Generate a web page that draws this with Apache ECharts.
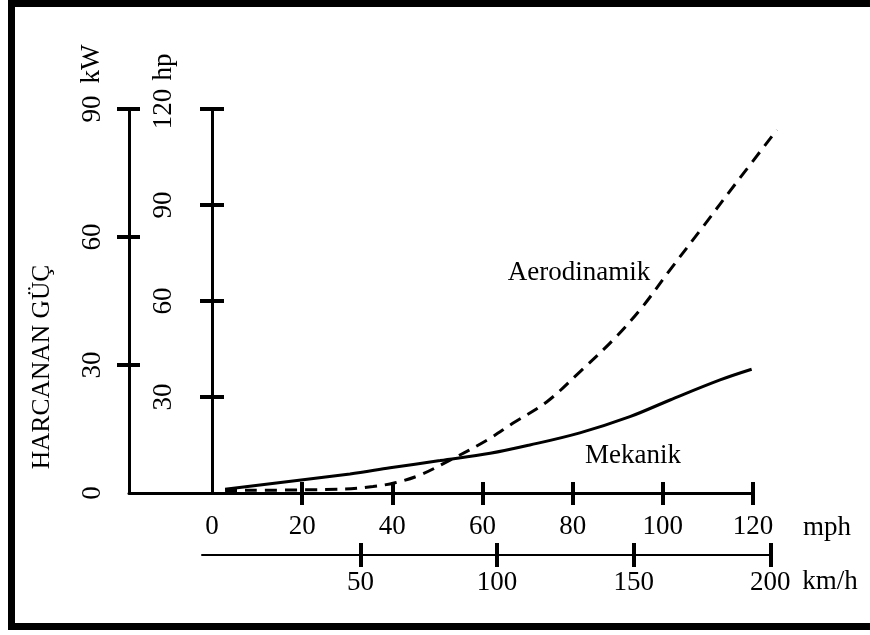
<!DOCTYPE html>
<html><head><meta charset="utf-8">
<script src="https://cdn.jsdelivr.net/npm/echarts@6/dist/echarts.min.js"></script>
<style>html,body{margin:0;padding:0;background:#fff}#c{width:870px;height:635px}</style>
</head><body><div id="c"></div>
<script>
// ---- data ----
const mphTicks = [20, 40, 60, 80, 100, 120];
const mphLabels = [0, 20, 40, 60, 80, 100, 120];
const kmhTicks = [50, 100, 150, 200];
const kwTicks = [30, 60, 90];
const kwLabels = [0, 30, 60, 90];
const hpTicks = [30, 60, 90, 120];

const mekMph = [2.9, 30.6, 39.5, 50.6, 61.7, 70.5, 81.6, 92.7, 101.6, 112.7, 119.7];
const mekKw  = [0.9, 4.45, 5.9, 7.6, 9.3, 11.25, 14.1, 17.9, 21.8, 26.5, 29.0];

const aeroMph = [2.9, 29, 35.7, 40.6, 46.1, 52.8, 61.0, 66.8, 74.3, 81.6, 89.0, 95.3, 101.6, 108.9, 116.5, 125.3];
const aeroKw  = [0.6, 0.9, 1.5, 2.4, 4.2, 7.7, 12.4, 16.4, 21.4, 28.4, 35.9, 43.4, 52.3, 62.4, 73.0, 85.1];

// ---- chart ----
const FF = '"Liberation Serif", "Times New Roman", serif';
const FS = 27;
const chart = echarts.init(document.getElementById('c'), null, {renderer: 'canvas'});

function tickStyle(w){ return {color: '#000', width: w}; }
function labelStyle(extra){ return Object.assign({color: '#000', fontSize: FS, fontFamily: FF}, extra); }

const MPH_MIN = -18.41;           // baseline starts at the kW axis
const PX_PER_MPH = 624 / (120 - MPH_MIN);
const PLOT_MAX = 140;             // hidden plotting axis, same scale, room for the dashed curve

const option = {
  animation: false,
  backgroundColor: '#fff',
  grid: [
    {left: 129, top: 109, width: 624, height: 384},
    {left: 202, top: 109, width: 568.3, height: 384},
    {left: 129, top: 109, width: (PLOT_MAX - MPH_MIN) * PX_PER_MPH, height: 384}
  ],
  xAxis: [
    {type: 'value', gridIndex: 0, position: 'bottom', min: MPH_MIN, max: 120,
     axisLine: {show: true, onZero: false, lineStyle: {color: '#000', width: 3}},
     axisTick: {show: true, customValues: mphTicks, length: 12, lineStyle: tickStyle(4)},
     axisLabel: labelStyle({show: true, customValues: mphLabels, margin: 20}),
     splitLine: {show: false}},
    {type: 'value', gridIndex: 0, position: 'bottom', min: MPH_MIN, max: 120,
     axisLine: {show: false, onZero: false},
     axisTick: {show: true, inside: true, customValues: mphTicks, length: 11, lineStyle: tickStyle(4)},
     axisLabel: {show: false}, splitLine: {show: false}},
    {type: 'value', gridIndex: 1, position: 'bottom', offset: 62, min: -8, max: 200,
     axisLine: {show: true, onZero: false, lineStyle: {color: '#000', width: 2}},
     axisTick: {show: true, customValues: kmhTicks, length: 12, lineStyle: tickStyle(4)},
     axisLabel: labelStyle({show: true, customValues: kmhTicks, margin: 14}),
     splitLine: {show: false}},
    {type: 'value', gridIndex: 1, position: 'bottom', offset: 62, min: -8, max: 200,
     axisLine: {show: false, onZero: false},
     axisTick: {show: true, inside: true, customValues: kmhTicks, length: 12, lineStyle: tickStyle(4)},
     axisLabel: {show: false}, splitLine: {show: false}},
    {type: 'value', gridIndex: 2, show: false, min: MPH_MIN, max: PLOT_MAX,
     axisLine: {onZero: false}}
  ],
  yAxis: [
    {type: 'value', gridIndex: 0, position: 'left', min: 0, max: 90, interval: 30,
     axisLine: {show: true, onZero: false, lineStyle: {color: '#000', width: 3}},
     axisTick: {show: true, customValues: kwTicks, length: 12, lineStyle: tickStyle(4)},
     axisLabel: labelStyle({show: true, customValues: kwLabels, rotate: 90, margin: 23}),
     splitLine: {show: false}},
    {type: 'value', gridIndex: 0, position: 'left', min: 0, max: 90, interval: 30,
     axisLine: {show: false, onZero: false},
     axisTick: {show: true, inside: true, customValues: kwTicks, length: 11, lineStyle: tickStyle(4)},
     axisLabel: {show: false}, splitLine: {show: false}},
    {type: 'value', gridIndex: 0, position: 'left', offset: -83, min: 0, max: 120, interval: 30,
     axisLine: {show: true, onZero: false, lineStyle: {color: '#000', width: 3}},
     axisTick: {show: true, customValues: hpTicks, length: 12, lineStyle: tickStyle(4)},
     axisLabel: labelStyle({show: true, customValues: hpTicks, rotate: 90, margin: 35}),
     splitLine: {show: false}},
    {type: 'value', gridIndex: 0, position: 'left', offset: -83, min: 0, max: 120, interval: 30,
     axisLine: {show: false, onZero: false},
     axisTick: {show: true, inside: true, customValues: hpTicks, length: 12, lineStyle: tickStyle(4)},
     axisLabel: {show: false}, splitLine: {show: false}},
    {type: 'value', gridIndex: 1, show: false, min: 0, max: 90, axisLine: {onZero: false}},
    {type: 'value', gridIndex: 2, show: false, min: 0, max: 90, axisLine: {onZero: false}}
  ],
  series: [
    {name: 'Mekanik', type: 'line', xAxisIndex: 4, yAxisIndex: 5,
     data: mekMph.map((v, i) => [v, mekKw[i]]),
     showSymbol: false, smooth: 0.35, clip: false,
     lineStyle: {color: '#000', width: 3, type: 'solid'}},
    {name: 'Aerodinamik', type: 'line', xAxisIndex: 4, yAxisIndex: 5,
     data: aeroMph.map((v, i) => [v, aeroKw[i]]),
     showSymbol: false, smooth: 0.35, clip: false,
     lineStyle: {color: '#000', width: 3, type: [12, 8]}}
  ],
  graphic: [
    {type: 'rect', silent: true, shape: {x: 11.5, y: 3.5, width: 880, height: 623},
     style: {fill: null, stroke: '#000', lineWidth: 7}},
    {type: 'text', x: 92, y: 64, rotation: Math.PI / 2,
     style: {text: 'kW', fontSize: FS, fontFamily: FF, fill: '#000', align: 'center', verticalAlign: 'middle'}},
    {type: 'text', x: 164, y: 67, rotation: Math.PI / 2,
     style: {text: 'hp', fontSize: FS, fontFamily: FF, fill: '#000', align: 'center', verticalAlign: 'middle'}},
    {type: 'text', x: 42, y: 367, rotation: Math.PI / 2,
     style: {text: 'HARCANAN GÜÇ', fontSize: 25.5, fontFamily: FF, fill: '#000', align: 'center', verticalAlign: 'middle'}},
    {type: 'text', x: 827, y: 528,
     style: {text: 'mph', fontSize: FS, fontFamily: FF, fill: '#000', align: 'center', verticalAlign: 'middle'}},
    {type: 'text', x: 830, y: 582,
     style: {text: 'km/h', fontSize: FS, fontFamily: FF, fill: '#000', align: 'center', verticalAlign: 'middle'}},
    {type: 'text', x: 579, y: 273,
     style: {text: 'Aerodinamik', fontSize: FS, fontFamily: FF, fill: '#000', align: 'center', verticalAlign: 'middle'}},
    {type: 'text', x: 633, y: 456,
     style: {text: 'Mekanik', fontSize: FS, fontFamily: FF, fill: '#000', align: 'center', verticalAlign: 'middle'}}
  ]
};
chart.setOption(option);
</script>
</body></html>
